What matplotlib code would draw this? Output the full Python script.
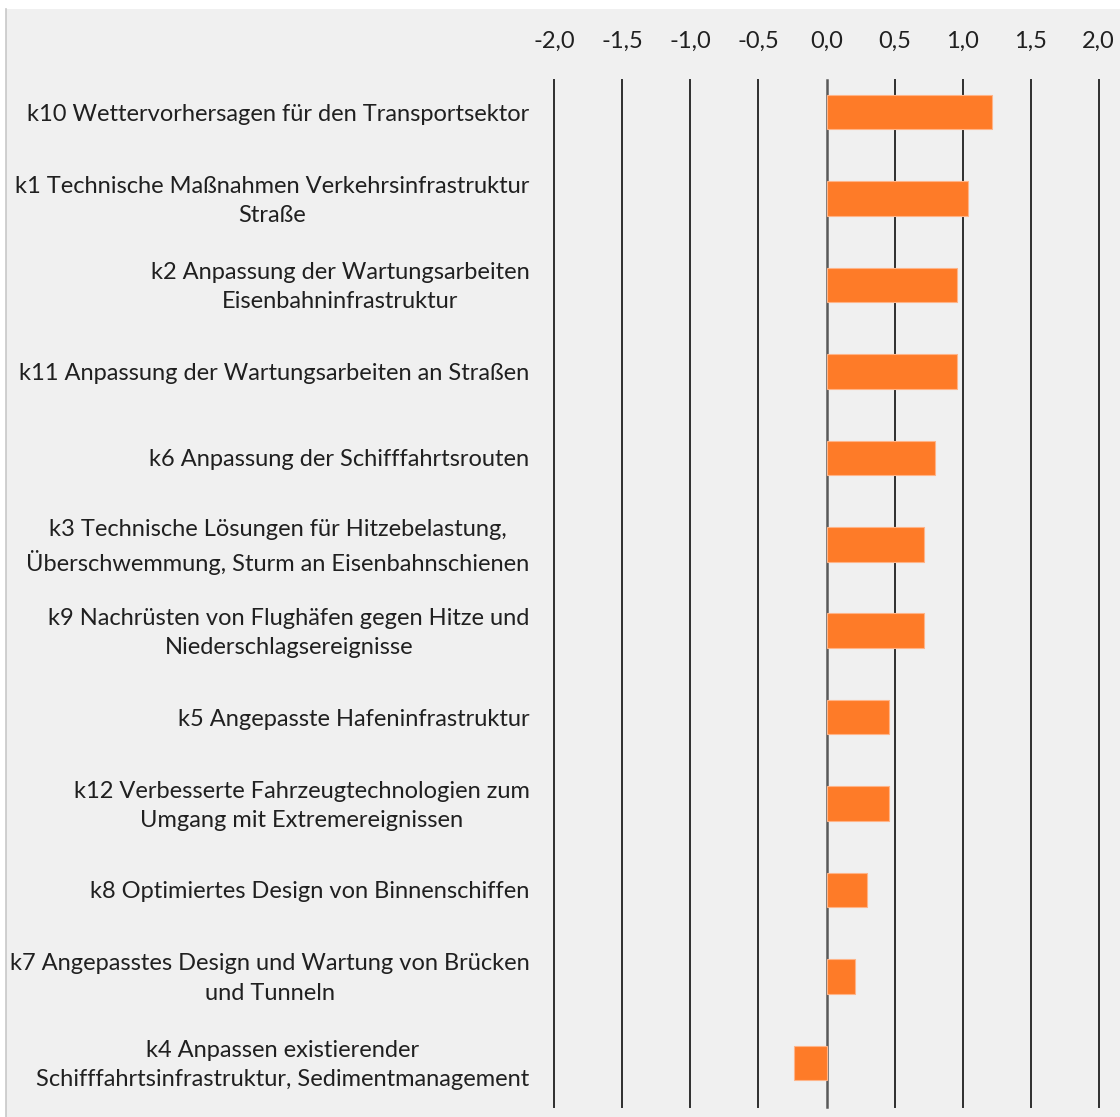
import matplotlib
matplotlib.use("Agg")
import matplotlib.pyplot as plt
from matplotlib.patches import Rectangle
from matplotlib.transforms import ScaledTranslation

plt.rcParams['font.family'] = ['Lato', 'DejaVu Sans']

labels = [
    "k10 Wettervorhersagen für den Transportsektor",
    "k1 Technische Maßnahmen Verkehrsinfrastruktur\nStraße",
    "k2 Anpassung der Wartungsarbeiten\nEisenbahninfrastruktur",
    "k11 Anpassung der Wartungsarbeiten an Straßen",
    "k6 Anpassung der Schifffahrtsrouten",
    "k3 Technische Lösungen für Hitzebelastung,\nÜberschwemmung, Sturm an Eisenbahnschienen",
    "k9 Nachrüsten von Flughäfen gegen Hitze und\nNiederschlagsereignisse",
    "k5 Angepasste Hafeninfrastruktur",
    "k12 Verbesserte Fahrzeugtechnologien zum\nUmgang mit Extremereignissen",
    "k8 Optimiertes Design von Binnenschiffen",
    "k7 Angepasstes Design und Wartung von Brücken\nund Tunneln",
    "k4 Anpassen existierender\nSchifffahrtsinfrastruktur, Sedimentmanagement",
]
values = [1.22, 1.04, 0.96, 0.96, 0.80, 0.72, 0.72, 0.46, 0.46, 0.30, 0.21, -0.24]
xticks = [-2.0, -1.5, -1.0, -0.5, 0.0, 0.5, 1.0, 1.5, 2.0]
xticklabels = ["-2,0", "-1,5", "-1,0", "-0,5", "0,0", "0,5", "1,0", "1,5", "2,0"]

W, H = 1120, 1117
fig = plt.figure(figsize=(W / 100, H / 100), dpi=100)
fig.patch.set_facecolor('white')
# gray panel
fig.add_artist(Rectangle((6 / W, 0), 1 - 6 / W, 1 - 9 / H, transform=fig.transFigure,
                         facecolor='#F0F0F0', edgecolor='none', zorder=-10))
fig.add_artist(plt.Line2D([6 / W, 6 / W], [0, 1 - 9 / H], transform=fig.transFigure,
                          color='#C8C8C8', lw=1.2, zorder=-9))

left, right = 554.4 / W, 1098.6 / W
top, bottom = 1 - 69 / H, 1 - 1106 / H
ax = fig.add_axes([left, bottom, right - left, top - bottom])
ax.set_facecolor('none')
ax.set_zorder(1)

n = len(values)
ypos = list(range(n))
ax.set_xlim(-2.0, 2.0)
ax.set_ylim(n - 0.5, -0.5)

for s in ax.spines.values():
    s.set_visible(False)

# vertical gridlines
gtop = (1106 - 80) / (1106 - 69)
for xv in xticks:
    ax.axvline(xv, ymin=-0.001, ymax=gtop, color='#2E2E2E' if xv != 0 else '#595959',
               lw=1.4 if xv != 0 else 1.8, zorder=1, clip_on=False)

ax.barh(ypos, values, height=0.4, color='#FE7B28', edgecolor='#FFB488', linewidth=0.8, zorder=2)

ax.set_yticks(ypos)
ax.set_yticklabels(labels, fontsize=17, color='#202020', multialignment='center',
                   linespacing=1.48)
ax.tick_params(axis='y', length=0, pad=18)
for lab in ax.get_yticklabels():
    if '\n' in lab.get_text():
        lab.set_transform(lab.get_transform() + ScaledTranslation(0, 4 / 100, fig.dpi_scale_trans))

ax.xaxis.tick_top()
ax.set_xticks(xticks)
ax.set_xticklabels(xticklabels, fontsize=17, color='#202020')
ax.tick_params(axis='x', length=0, pad=12)

fig.savefig('out.png', dpi=100, facecolor=fig.get_facecolor())
